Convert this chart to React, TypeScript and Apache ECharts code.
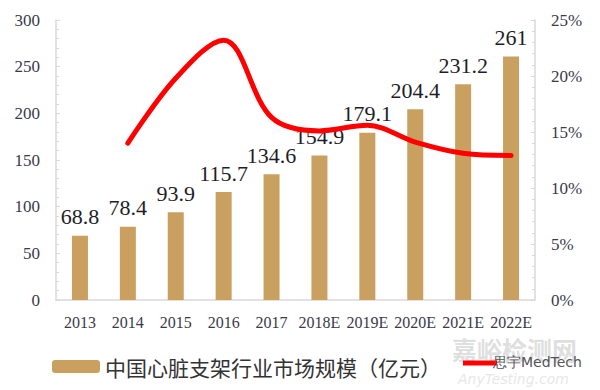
import React, { useEffect, useRef } from "react";
import * as echarts from "echarts";

const categories = ["2013", "2014", "2015", "2016", "2017", "2018E", "2019E", "2020E", "2021E", "2022E"];
const marketSize = [68.8, 78.4, 93.9, 115.7, 134.6, 154.9, 179.1, 204.4, 231.2, 261];
const growthRate = [null, 14.0, 19.8, 23.2, 16.3, 15.1, 15.6, 14.1, 13.1, 12.9];
const leftTicks = [0, 300, 50];
const rightTicks = [0, 25, 5];

const serif = "Liberation Serif";
const cjk = "Noto Sans CJK SC";

export default function App() {
  const ref = useRef<HTMLDivElement>(null);
  useEffect(() => {
    const chart = echarts.init(ref.current!, undefined, { renderer: "svg" });
    chart.setOption({
      animation: false,
      backgroundColor: "#ffffff",
      textStyle: { fontFamily: serif },
      grid: { left: 56, right: 65, top: 20, bottom: 90, containLabel: false },
      legend: {
        data: [{ name: "中国心脏支架行业市场规模（亿元）" }],
        left: 47,
        top: 351,
        itemWidth: 48,
        itemHeight: 13,
        itemGap: 10,
        textStyle: { fontFamily: cjk, fontSize: 21, color: "#333333" },
      },
      xAxis: {
        type: "category",
        data: categories,
        axisLine: { lineStyle: { color: "#d9d9d9", width: 1.5 } },
        axisTick: { show: false },
        axisLabel: { interval: 0, fontFamily: serif, fontSize: 16, color: "#3a3a48", margin: 14 },
      },
      yAxis: [
        {
          type: "value",
          min: leftTicks[0],
          max: leftTicks[1],
          interval: leftTicks[2],
          axisLine: { show: true, lineStyle: { color: "#d9d9d9", width: 1.5 } },
          axisTick: { show: true, inside: true, length: 4, lineStyle: { color: "#d9d9d9" } },
          minorTick: { show: true, splitNumber: 5, length: 3, lineStyle: { color: "#d9d9d9" } },
          splitLine: { show: false },
          axisLabel: { fontFamily: serif, fontSize: 17, color: "#3a3a48", margin: 16 },
        },
        {
          type: "value",
          min: rightTicks[0],
          max: rightTicks[1],
          interval: rightTicks[2],
          position: "right",
          axisLine: { show: true, lineStyle: { color: "#d9d9d9", width: 1.5 } },
          axisTick: { show: true, inside: true, length: 4, lineStyle: { color: "#d9d9d9" } },
          minorTick: { show: true, splitNumber: 5, length: 3, lineStyle: { color: "#d9d9d9" } },
          splitLine: { show: false },
          axisLabel: { fontFamily: serif, fontSize: 17, color: "#3a3a48", margin: 16, formatter: "{value}%" },
        },
      ],
      series: [
        {
          name: "中国心脏支架行业市场规模（亿元）",
          type: "bar",
          data: marketSize,
          barWidth: 16,
          itemStyle: { color: "#c9a060" },
          label: {
            show: true,
            position: "top",
            distance: 8,
            fontFamily: serif,
            fontSize: 22,
            color: "#1e1e28",
          },
        },
        {
          name: "增速",
          type: "line",
          yAxisIndex: 1,
          data: growthRate,
          smooth: 0.35,
          showSymbol: false,
          symbol: "none",
          lineStyle: { color: "#ff0000", width: 5, cap: "round" },
          z: 5,
        },
      ],
      graphic: [
        { type: "text", left: 452, top: 336, style: { text: "嘉峪检测网", fontFamily: cjk, fontSize: 25, fontWeight: "bold", fill: "rgba(195,195,195,0.55)" } },
        { type: "line", shape: { x1: 463, y1: 363, x2: 497, y2: 363 }, style: { stroke: "#ff0000", lineWidth: 5 } },
        { type: "text", left: 493, top: 355, style: { text: "思宇MedTech", fontFamily: "DejaVu Sans", fontSize: 14, fill: "#555555" } },
        { type: "text", left: 458, top: 372, style: { text: "AnyTesting.com", fontFamily: "DejaVu Sans", fontSize: 14, fontStyle: "italic", fill: "rgba(205,205,205,0.5)" } },
      ],
    });
    return () => chart.dispose();
  }, []);
  return <div ref={ref} style={{ width: 600, height: 390, position: "absolute", left: 0, top: 0 }} />;
}
